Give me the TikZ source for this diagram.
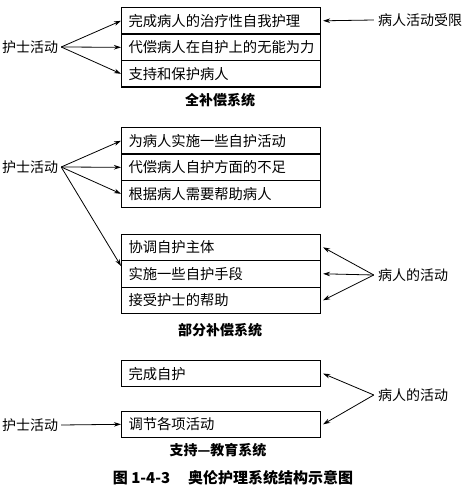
\documentclass[tikz,border=0pt]{standalone}
\usepackage{fontspec}
\setmainfont{Noto Sans CJK SC}
\usetikzlibrary{arrows.meta}
\begin{document}
\begin{tikzpicture}[x=1pt,y=-1pt,
  row/.style={draw, line width=1.1pt, minimum width=199pt, minimum height=26.5pt,
    text width=185pt, inner xsep=7pt, inner ysep=0pt, align=left, anchor=north west,
    font=\fontsize{14.3}{15}\selectfont},
  lbl/.style={inner sep=0pt, font=\fontsize{14}{15}\selectfont},
  sys/.style={inner sep=0pt, font=\fontsize{14}{15}\selectfont\bfseries},
  captext/.style={inner sep=0pt, font=\fontsize{15}{16}\selectfont\bfseries},
  arr/.style={-{Stealth[length=7pt,width=4.5pt]}, line width=0.8pt}]
\useasboundingbox (0,0) rectangle (467,489);

% ---- full compensatory system
\node[row] (a1) at (121,7)    {完成病人的治疗性自我护理};
\node[row] (a2) at (121,33.5) {代偿病人在自护上的无能为力};
\node[row] (a3) at (121,60)   {支持和保护病人};
\node[lbl] (na) at (30,47) {护士活动};
\node[lbl] (pa) at (420,20) {病人活动受限};
\node[sys] (sa) at (220,100) {全补偿系统};
\draw[arr] ([xshift=3pt]na.east) -- (a1.west);
\draw[arr] ([xshift=3pt]na.east) -- (a2.west);
\draw[arr] ([xshift=3pt]na.east) -- (a3.west);
\draw[arr] ([xshift=-4pt]pa.west) -- ([xshift=2pt]a1.east);

% ---- partial compensatory system
\node[row] (b1) at (121,127)   {为病人实施一些自护活动};
\node[row] (b2) at (121,153.5) {代偿病人自护方面的不足};
\node[row] (b3) at (121,180)   {根据病人需要帮助病人};
\node[row] (c1) at (121,233.5) {协调自护主体};
\node[row] (c2) at (121,260)   {实施一些自护手段};
\node[row] (c3) at (121,286.5) {接受护士的帮助};
\node[lbl] (nb) at (30,167) {护士活动};
\node[lbl] (pb) at (413,275) {病人的活动};
\node[sys] (sb) at (220,330) {部分补偿系统};
\draw[arr] ([xshift=3pt]nb.east) -- (b1.west);
\draw[arr] ([xshift=3pt]nb.east) -- (b2.west);
\draw[arr] ([xshift=3pt]nb.east) -- (b3.west);
\draw[arr] ([xshift=3pt]nb.east) -- ([yshift=-6pt]c2.north west);
\draw[arr] ([xshift=-4pt]pb.west) -- ([xshift=2pt]c1.east);
\draw[arr] ([xshift=-4pt]pb.west) -- ([xshift=2pt]c2.east);
\draw[arr] ([xshift=-4pt]pb.west) -- ([xshift=2pt]c3.east);

% ---- supportive-educative system
\node[row, minimum height=26pt] (d1) at (121,360)   {完成自护};
\node[row] (d2) at (121,410.5) {调节各项活动};
\node[lbl] (nd) at (30,425) {护士活动};
\node[lbl] (pd) at (413,395) {病人的活动};
\node[sys] (sd) at (218,450) {支持—教育系统};
\draw[arr] ([xshift=3pt]nd.east) -- (d2.west);
\draw[arr] ([xshift=-4pt]pd.west) -- ([xshift=2pt]d1.east);
\draw[arr] ([xshift=-4pt]pd.west) -- ([xshift=2pt]d2.east);

% ---- caption
\node[captext] (cp) at (233,478) {图 1-4-3\hspace{1.2em}奥伦护理系统结构示意图};
\end{tikzpicture}
\end{document}
